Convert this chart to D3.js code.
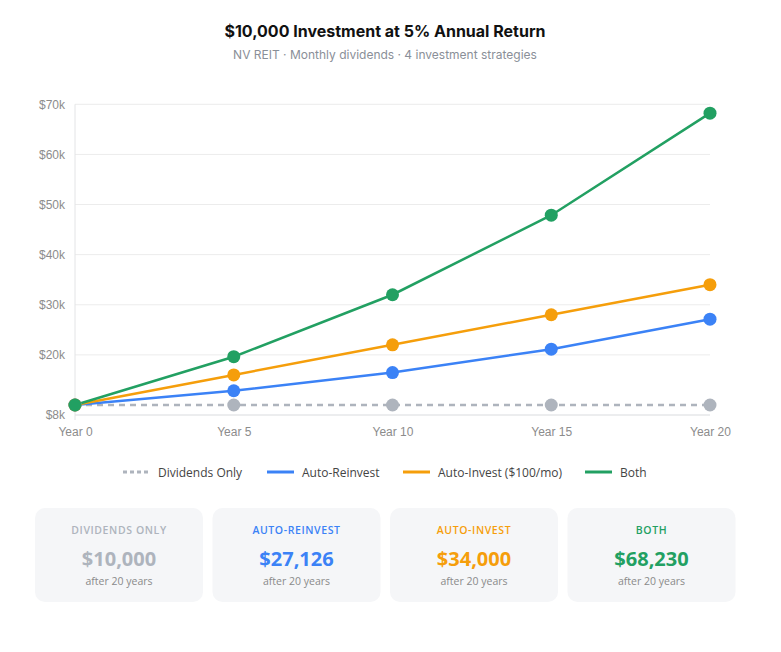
<!DOCTYPE html>
<html>
<head>
<meta charset="utf-8">
<script src="https://cdn.jsdelivr.net/npm/d3@7"></script>
<style>
  body { margin: 0; background: #fff; }
  svg { display: block; }
</style>
</head>
<body>
<div id="chart"></div>
<script>
// data
var years = [0, 5, 10, 15, 20];
var yearLabels = ["Year 0", "Year 5", "Year 10", "Year 15", "Year 20"];
var dividendsOnly = [10000, 10000, 10000, 10000, 10000];
var autoReinvest = [10000, 12834, 16470, 21137, 27126];
var autoInvest = [10000, 16000, 22000, 28000, 34000];
var both = [10000, 19635, 31998, 47866, 68230];
var yTicks = [8000, 20000, 30000, 40000, 50000, 60000, 70000];

var seriesNames = ["Dividends Only", "Auto-Reinvest", "Auto-Invest ($100/mo)", "Both"];
var cardLabels = ["DIVIDENDS ONLY", "AUTO-REINVEST", "AUTO-INVEST", "BOTH"];
var colors = ["#aeb4bd", "#3b82f6", "#f59e0b", "#22a062"];

var series = [dividendsOnly, autoReinvest, autoInvest, both];

var svgWidth = 781;
var svgHeight = 652;

var svg = d3.select("#chart")
  .append("svg")
  .attr("width", svgWidth)
  .attr("height", svgHeight);

// title
svg.append("text")
  .attr("x", 385).attr("y", 37)
  .attr("text-anchor", "middle")
  .attr("font-family", "Inter, sans-serif")
  .attr("font-weight", 700)
  .attr("font-size", "16px")
  .attr("fill", "#111")
  .text("$10,000 Investment at 5% Annual Return");

svg.append("text")
  .attr("x", 385).attr("y", 59)
  .attr("text-anchor", "middle")
  .attr("font-family", "Inter, sans-serif")
  .attr("font-size", "12px")
  .attr("fill", "#8a8f98")
  .text("NV REIT · Monthly dividends · 4 investment strategies");

// scales
var x = d3.scalePoint()
  .domain(years)
  .range([75, 710]);

var y = d3.scaleLinear()
  .domain([8000, 70000])
  .range([415, 104.3]);

var plot = svg.append("g");

// gridlines
plot.selectAll(".grid")
  .data(yTicks)
  .enter()
  .append("line")
  .attr("x1", 75)
  .attr("x2", 710)
  .attr("y1", d => y(d))
  .attr("y2", d => y(d))
  .attr("stroke", d => d === 8000 ? "#d9dbde" : "#ececec")
  .attr("stroke-width", 1);

// left vertical line
plot.append("line")
  .attr("x1", 75).attr("x2", 75)
  .attr("y1", y(70000)).attr("y2", y(8000) + 5)
  .attr("stroke", "#e3e4e6");

// y axis
var yAxis = d3.axisLeft(y)
  .tickValues(yTicks)
  .tickSize(0)
  .tickPadding(10)
  .tickFormat(d => "$" + (d / 1000) + "k");

var yAxisG = plot.append("g")
  .attr("transform", "translate(75,0)")
  .call(yAxis);
yAxisG.select(".domain").remove();
yAxisG.selectAll("text")
  .attr("font-family", "'Liberation Sans', Arial, sans-serif")
  .attr("font-size", "12px")
  .attr("fill", "#8c8c8c");

// x axis
var xAxis = d3.axisBottom(x)
  .tickSize(0)
  .tickPadding(12)
  .tickFormat((d, i) => yearLabels[i]);

var xAxisG = plot.append("g")
  .attr("transform", `translate(0, ${y(8000)})`)
  .call(xAxis);
xAxisG.select(".domain").remove();
xAxisG.selectAll("text")
  .attr("font-family", "'Liberation Sans', Arial, sans-serif")
  .attr("font-size", "12px")
  .attr("fill", "#8c8c8c");

// lines
var line = d3.line()
  .x((d, i) => x(years[i]))
  .y(d => y(d));

series.forEach(function(s, k) {
  plot.append("path")
    .datum(s)
    .attr("d", line)
    .attr("fill", "none")
    .attr("stroke", colors[k])
    .attr("stroke-width", 2.5)
    .attr("stroke-dasharray", k === 0 ? "6,5" : null);
});

series.forEach(function(s, k) {
  plot.selectAll(".pt" + k)
    .data(s)
    .enter()
    .append("circle")
    .attr("cx", (d, i) => x(years[i]))
    .attr("cy", d => y(d))
    .attr("r", 6.5)
    .attr("fill", colors[k]);
});

// legend
var legendX = [123, 267, 403, 585];
var legend = svg.append("g").attr("transform", "translate(0,472)");
seriesNames.forEach(function(name, k) {
  legend.append("line")
    .attr("x1", legendX[k]).attr("x2", legendX[k] + 27)
    .attr("y1", 0).attr("y2", 0)
    .attr("stroke", colors[k])
    .attr("stroke-width", 3)
    .attr("stroke-dasharray", k === 0 ? "4,3" : null);
  legend.append("text")
    .attr("x", legendX[k] + 35)
    .attr("y", 4.5)
    .attr("font-family", "'Open Sans', sans-serif")
    .attr("font-size", "12px")
    .attr("fill", "#444")
    .text(name);
});

// summary cards
var finals = series.map(s => s[s.length - 1]);
var cardW = 168, cardH = 94, cardGap = 9.5;
var cards = svg.selectAll(".card")
  .data(finals)
  .enter()
  .append("g")
  .attr("transform", (d, i) => `translate(${35 + i * (cardW + cardGap)}, 508)`);

cards.append("rect")
  .attr("width", cardW)
  .attr("height", cardH)
  .attr("rx", 10)
  .attr("fill", "#f5f6f8");

cards.append("text")
  .attr("x", cardW / 2).attr("y", 26)
  .attr("text-anchor", "middle")
  .attr("font-family", "'Open Sans', sans-serif")
  .attr("font-size", "10.5px")
  .attr("font-weight", 600)
  .attr("letter-spacing", "0.6px")
  .attr("fill", (d, i) => colors[i])
  .text((d, i) => cardLabels[i]);

cards.append("text")
  .attr("x", cardW / 2).attr("y", 58)
  .attr("text-anchor", "middle")
  .attr("font-family", "'Open Sans', sans-serif")
  .attr("font-size", "20px")
  .attr("font-weight", 700)
  .attr("fill", (d, i) => colors[i])
  .text(d => d3.format("$,")(d));

cards.append("text")
  .attr("x", cardW / 2).attr("y", 77)
  .attr("text-anchor", "middle")
  .attr("font-family", "'Open Sans', sans-serif")
  .attr("font-size", "10.5px")
  .attr("fill", "#8a8a8a")
  .text("after 20 years");
</script>
</body>
</html>
